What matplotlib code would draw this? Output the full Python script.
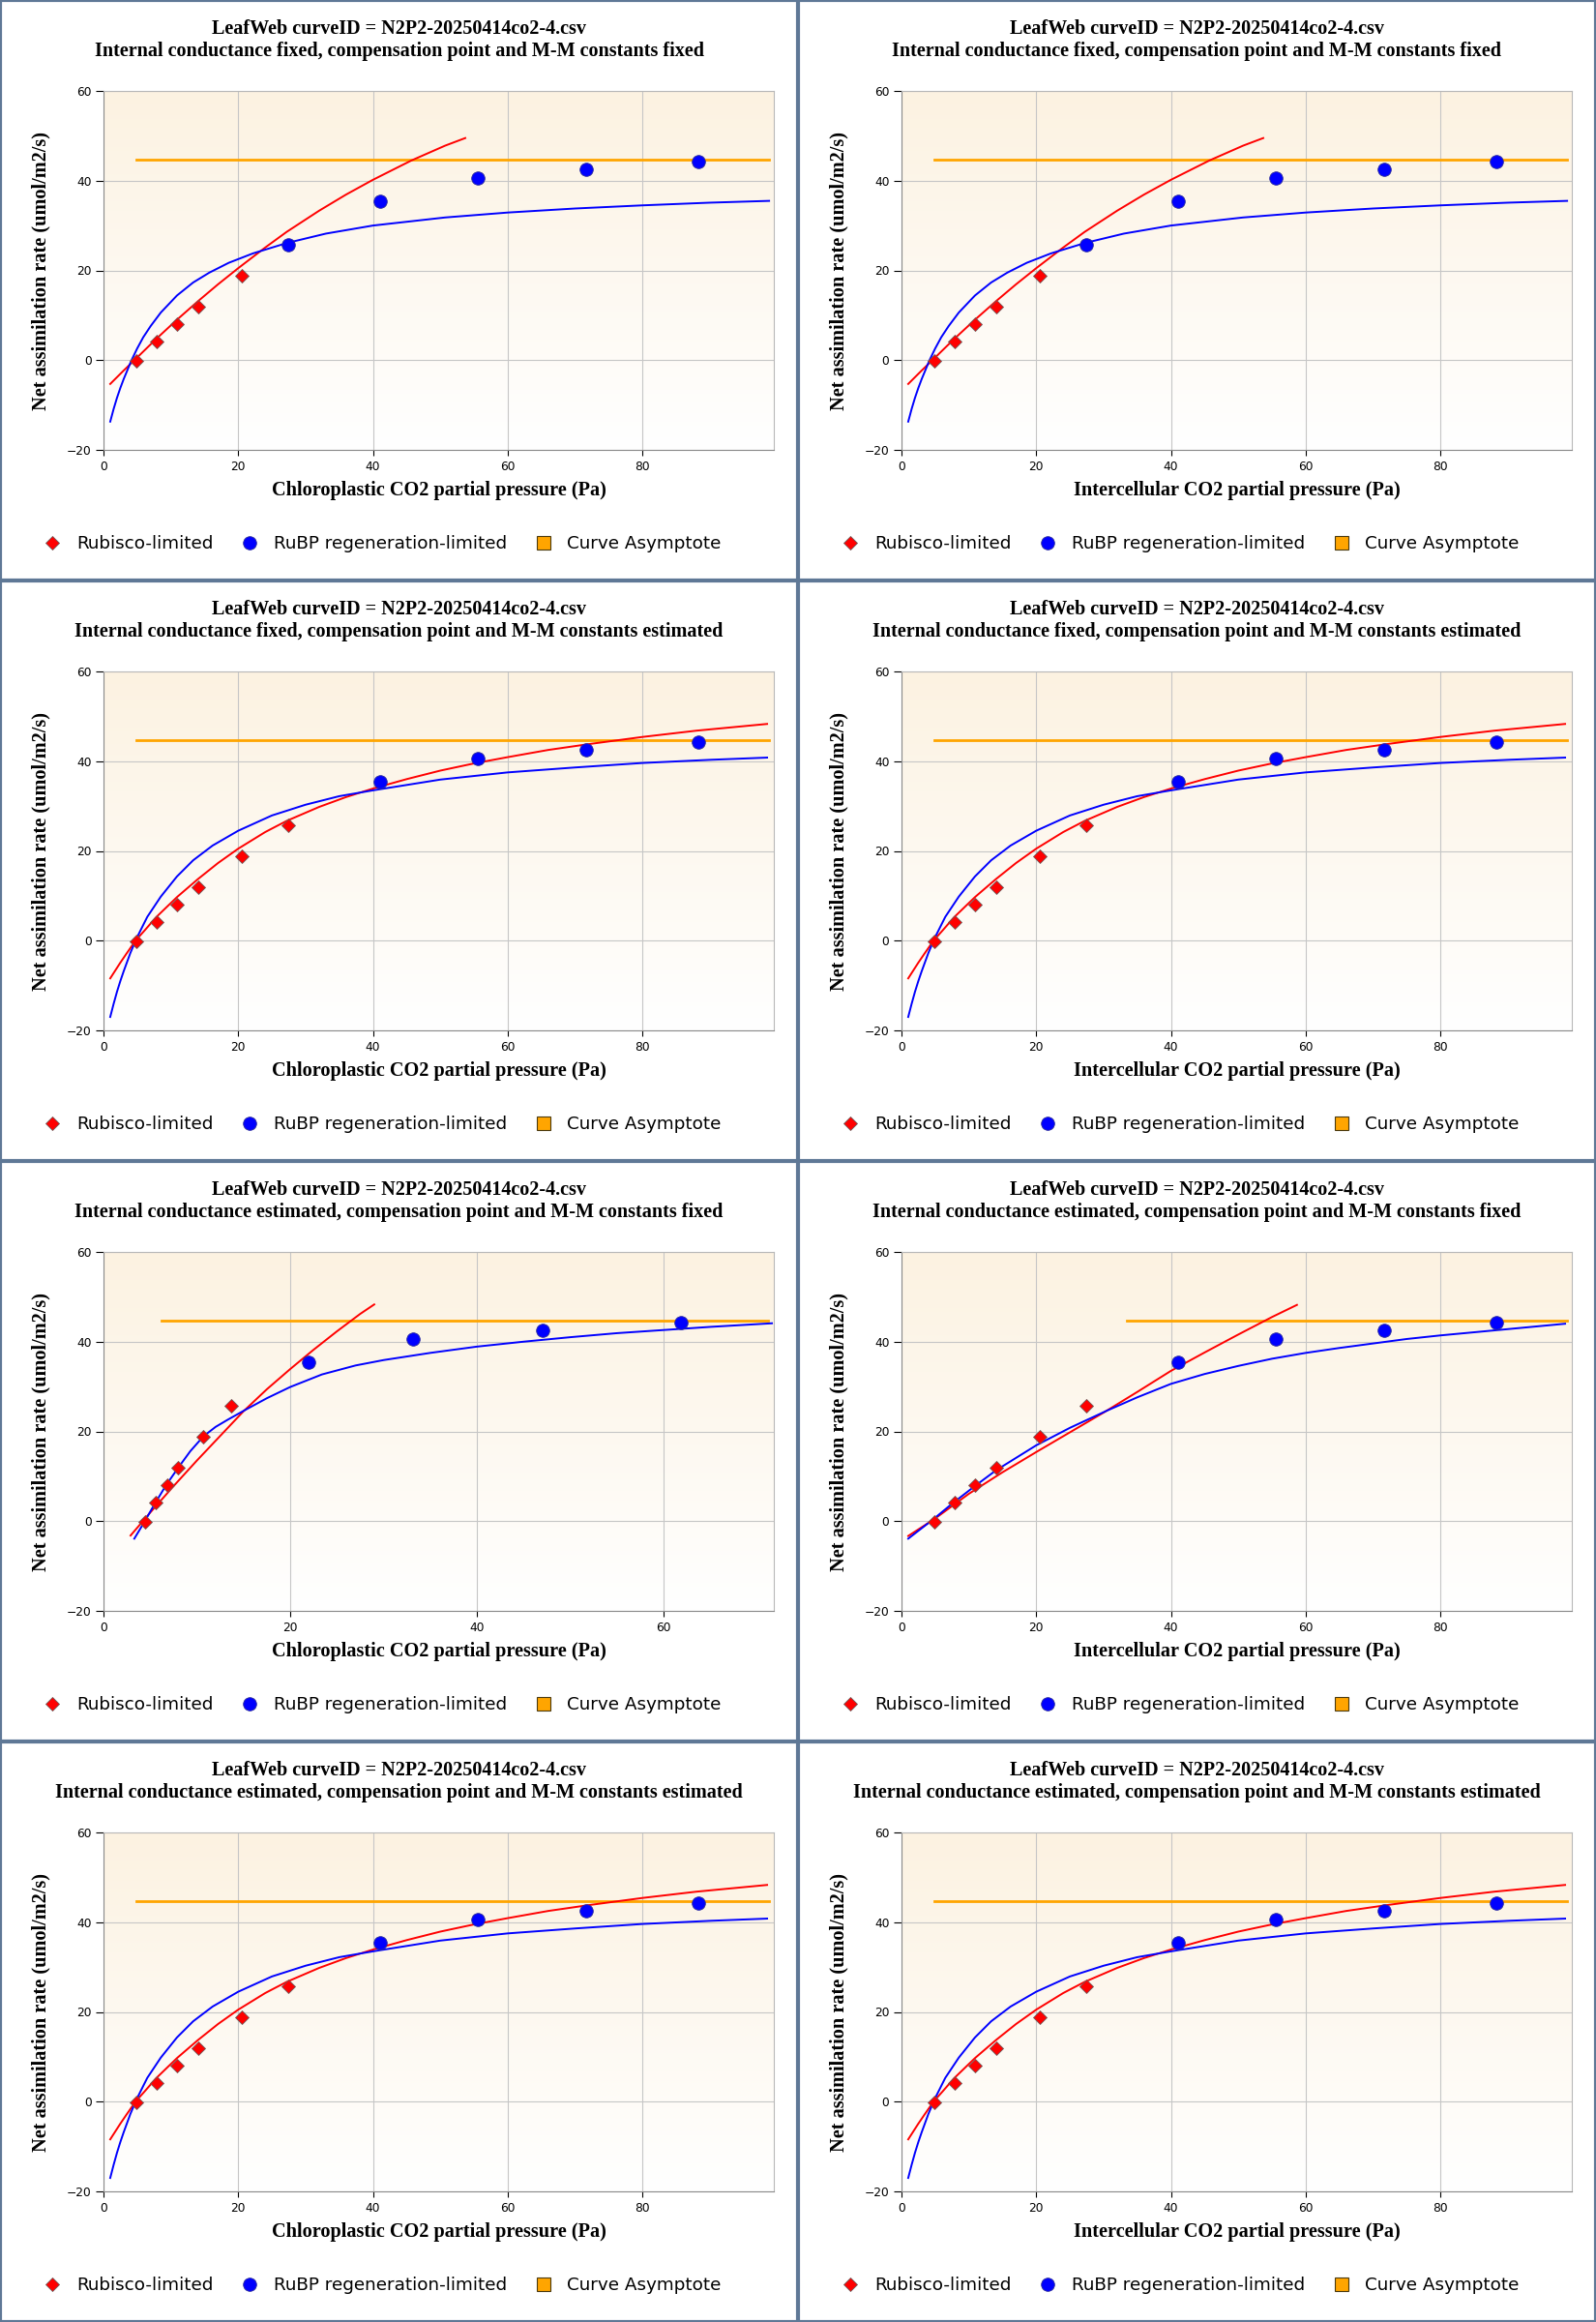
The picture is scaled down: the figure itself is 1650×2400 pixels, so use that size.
import numpy as np
import matplotlib.pyplot as plt
from matplotlib.lines import Line2D
from matplotlib.colors import LinearSegmentedColormap

# observed points (same A values in every panel)
ci_x = [4.85, 7.9, 10.9, 14.1, 20.5, 27.4, 41.1, 55.5, 71.7, 88.3]
cc_x_gm_est = [4.41, 5.6, 6.8, 8.0, 10.7, 13.7, 22.0, 33.2, 47.0, 61.9]
a_obs = [-0.2, 4.1, 8.0, 11.9, 18.9, 25.8, 35.4, 40.5, 42.6, 44.3]

# fit set A: gm fixed, constants fixed
red_a_x = [1, 3, 4.8, 7.8, 10.9, 14, 17, 20, 24, 27.2, 32, 36, 40, 45.7, 50.7, 53.7]
red_a_y = [-5.3, -2.3, 0.3, 4.7, 9.0, 13.1, 16.9, 20.5, 25.1, 28.6, 33.3, 36.9, 40.2, 44.5, 47.8, 49.5]
blue_a_x = [1, 1.5, 2, 2.5, 3, 3.5, 4.1, 5, 5.9, 7, 8.5, 10.9, 13.3, 15.7, 18.6, 22.2, 27.2, 33, 40,
            50.7, 60, 70, 80, 90, 98.8]
blue_a_y = [-13.7, -10.9, -8.4, -6.2, -4.2, -2.4, -0.2, 2.6, 5.1, 7.6, 10.6, 14.4, 17.3, 19.5, 21.7,
            23.8, 26.1, 28.2, 30.0, 31.8, 32.9, 33.8, 34.5, 35.1, 35.5]

# fit set B: gm fixed, constants estimated
red_b_x = [1, 2.5, 3.5, 4.8, 6, 7.8, 10.9, 14, 17, 20, 24, 27.2, 32, 36, 40, 45, 50, 55, 60, 66, 72,
           80, 88, 98.5]
red_b_y = [-8.4, -4.9, -2.7, 0.1, 2.1, 5.2, 9.7, 13.7, 17.3, 20.5, 24.2, 26.7, 29.8, 32.0, 33.9,
           36.0, 37.9, 39.5, 40.9, 42.5, 43.8, 45.4, 46.8, 48.3]
blue_b_x = [1, 1.5, 2, 2.5, 3, 4, 5, 6.5, 8.5, 10.9, 13.3, 16.2, 20, 25, 30, 35, 40, 50, 60, 70, 80,
            90, 98.5]
blue_b_y = [-17.0, -14.1, -11.4, -9.0, -6.8, -2.7, 0.8, 5.3, 9.8, 14.3, 17.9, 21.2, 24.5, 27.9,
            30.3, 32.2, 33.5, 35.9, 37.5, 38.6, 39.6, 40.3, 40.8]

# fit set C: gm estimated, constants fixed (chloroplastic)
red_c_x = [2.9, 5, 7.5, 10, 12.5, 15, 17.5, 20, 22.5, 25, 27.5, 29]
red_c_y = [-3.2, 1.9, 7.8, 13.5, 19.0, 24.5, 29.4, 33.9, 38.2, 42.3, 46.2, 48.3]
blue_c_x = [3.3, 4.4, 5.5, 6.7, 8.0, 9.3, 10.7, 12.0, 13.3, 15.1, 17.5, 20, 23.4, 27, 30, 35, 40,
            45, 50, 55, 60, 65, 71.6]
blue_c_y = [-3.9, -0.1, 3.9, 8.0, 11.9, 15.6, 18.9, 21.0, 22.6, 24.7, 27.4, 29.9, 32.7, 34.7, 35.9,
            37.5, 38.9, 40.0, 41.0, 41.9, 42.6, 43.3, 44.1]

# fit set D: gm estimated, constants fixed (intercellular)
red_d_x = [1, 5, 10, 15, 20, 25, 30, 35, 40, 45, 50, 55, 58.7]
red_d_y = [-3.3, 0.6, 6.1, 10.9, 15.4, 19.8, 24.2, 28.8, 33.5, 37.6, 41.6, 45.5, 48.2]
blue_d_x = [1, 4.7, 7.6, 10.7, 14, 20, 25, 30.6, 35, 40, 45, 50, 55, 60, 65, 70, 75, 80, 85, 90, 98.5]
blue_d_y = [-3.9, 0.4, 4.0, 7.6, 11.3, 16.9, 20.8, 24.7, 27.6, 30.6, 32.8, 34.6, 36.2, 37.5, 38.6,
            39.6, 40.6, 41.4, 42.1, 42.8, 44.0]

asym_y = 44.6
asym_a = [4.9, 98.8]
asym_c = [6.2, 71.2]
asym_d = [33.5, 98.8]

title_top = "LeafWeb curveID = N2P2-20250414co2-4.csv"
subtitles = [
    "Internal conductance fixed, compensation point and M-M constants fixed",
    "Internal conductance fixed, compensation point and M-M constants estimated",
    "Internal conductance estimated, compensation point and M-M constants fixed",
    "Internal conductance estimated, compensation point and M-M constants estimated",
]
xlabels = ["Chloroplastic CO2 partial pressure (Pa)", "Intercellular CO2 partial pressure (Pa)"]
legend_labels = ["Rubisco-limited", "RuBP regeneration-limited", "Curve Asymptote"]

set_a = dict(px=ci_x, n_rub=5, rx=red_a_x, ry=red_a_y, bx=blue_a_x, by=blue_a_y, asym=asym_a, xmax=99.5)
set_b = dict(px=ci_x, n_rub=6, rx=red_b_x, ry=red_b_y, bx=blue_b_x, by=blue_b_y, asym=asym_a, xmax=99.5)
set_c = dict(px=cc_x_gm_est, n_rub=6, rx=red_c_x, ry=red_c_y, bx=blue_c_x, by=blue_c_y, asym=asym_c, xmax=71.8)
set_d = dict(px=ci_x, n_rub=6, rx=red_d_x, ry=red_d_y, bx=blue_d_x, by=blue_d_y, asym=asym_d, xmax=99.5)
grid_sets = [[set_a, set_a], [set_b, set_b], [set_c, set_d], [set_b, set_b]]

W, H = 1650, 2400
PW, PH = 825, 600
fig = plt.figure(figsize=(W / 100, H / 100), dpi=100)
fig.patch.set_facecolor("white")

serif = "Liberation Serif"
grad_cmap = LinearSegmentedColormap.from_list("bg", ["#ffffff", "#fcf2e1"])
grad = np.linspace(0, 1, 256).reshape(-1, 1)


def fx(col, px):
    return (col * PW + px) / W


def fy(row, py):
    return 1 - (row * PH + py) / H


for r in range(4):
    for c in range(2):
        d = grid_sets[r][c]
        ax = fig.add_axes([fx(c, 107), fy(r, 465), 693 / W, 371 / H])
        ax.imshow(grad, extent=(0, 1, 0, 1), transform=ax.transAxes, origin="lower",
                  aspect="auto", cmap=grad_cmap, zorder=-1)
        ax.set_axisbelow(True)
        ax.grid(True, color="#c6c6c6", lw=0.8)

        n = d["n_rub"]
        ax.plot(d["asym"], [asym_y, asym_y], color="#ffa500", lw=2.0, zorder=2)
        ax.plot(d["rx"], d["ry"], color="#ff0000", lw=1.4, zorder=3)
        ax.plot(d["bx"], d["by"], color="#0000ff", lw=1.4, zorder=3)
        ax.plot(d["px"][:n], a_obs[:n], ls="none", marker="D", ms=7.5, mfc="#ff0000",
                mec="#6e5a5a", mew=0.6, zorder=4)
        ax.plot(d["px"][n:], a_obs[n:], ls="none", marker="o", ms=9.8, mfc="#0000ff",
                mec="#2a2a9a", mew=0.6, zorder=4)

        ax.set_xlim(0, d["xmax"])
        ax.set_ylim(-20, 60)
        ax.set_yticks([-20, 0, 20, 40, 60])
        ax.set_xticks(np.arange(0, d["xmax"], 20))
        for s in ["left", "bottom"]:
            ax.spines[s].set_color("#8a8a8a")
        for s in ["top", "right"]:
            ax.spines[s].set_color("#b8b8b8")
        for s in ax.spines.values():
            s.set_linewidth(0.8)
        ax.tick_params(axis="y", length=6, width=0.8, pad=3, labelsize=8.8, colors="black")
        ax.tick_params(axis="x", length=4, width=0.8, pad=4, labelsize=8.8, colors="black")

        ax.set_ylabel("Net assimilation rate (umol/m2/s)", fontfamily=serif,
                      fontweight="bold", fontsize=14.6)
        ax.yaxis.set_label_coords(-65 / 693, 0.5)
        ax.yaxis.label.set_va("center")
        ax.set_xlabel(xlabels[c], fontfamily=serif, fontweight="bold", fontsize=14.6)
        ax.xaxis.set_label_coords(0.5, -42 / 371)
        ax.xaxis.label.set_va("center")

        fig.text(fx(c, 412.5), fy(r, 30), title_top, ha="center", va="center",
                 fontfamily=serif, fontweight="bold", fontsize=14.5)
        fig.text(fx(c, 412.5), fy(r, 53), subtitles[r], ha="center", va="center",
                 fontfamily=serif, fontweight="bold", fontsize=14.5)

        handles = [
            Line2D([], [], ls="none", marker="D", ms=7, mfc="#ff0000", mec="#6e5a5a", mew=0.6),
            Line2D([], [], ls="none", marker="o", ms=9.8, mfc="#0000ff", mec="#2a2a9a", mew=0.6),
            Line2D([], [], ls="none", marker="s", ms=9.5, mfc="#ffa500", mec="#4a3a10", mew=0.8),
        ]
        ax.legend(handles, legend_labels, loc="center left",
                  bbox_to_anchor=(fx(c, 44.8), fy(r, 562)), bbox_transform=fig.transFigure,
                  ncol=3, frameon=False, fontsize=13.2, handlelength=1.0,
                  handletextpad=0.86, columnspacing=1.55, borderpad=0, borderaxespad=0,
                  numpoints=1)

# panel separators
border = "#5f7896"
for xb in [0, PW, W]:
    fig.add_artist(Line2D([xb / W, xb / W], [0, 1], transform=fig.transFigure,
                          color=border, lw=3))
for yb in range(0, H + 1, PH):
    fig.add_artist(Line2D([0, 1], [yb / H, yb / H], transform=fig.transFigure,
                          color=border, lw=3))

plt.savefig("out.png", dpi=100)
